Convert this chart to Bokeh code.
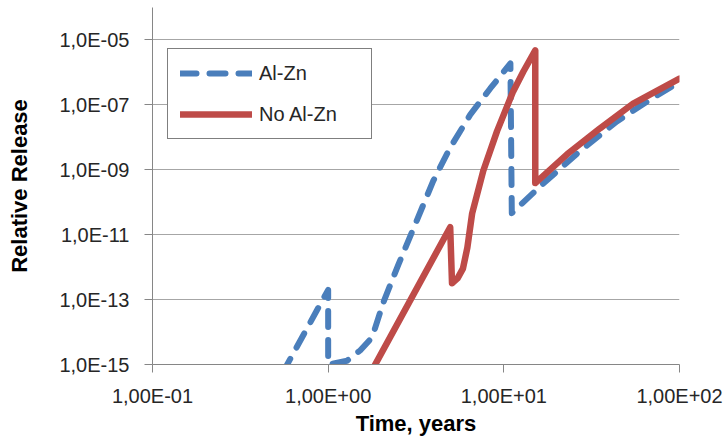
from bokeh.plotting import figure
from bokeh.models import FixedTicker, Legend, LegendItem
from bokeh.embed import file_html
from bokeh.resources import INLINE

# ---- data ----
alzn_time = [0.55, 1.0, 1.0, 1.28, 1.52, 1.78, 2.06, 2.51, 3.05, 3.97, 4.95,
             6.44, 8.37, 10.9, 11.1, 16.7, 27.2, 44.0, 68.1, 100.0]
alzn_release = [5.5e-16, 2.0e-13, 1.0e-15, 1.3e-15, 2.7e-15, 6.9e-15, 8.1e-14,
                1.2e-12, 1.5e-11, 4.6e-10, 4.8e-9, 5.0e-8, 3.2e-7, 1.9e-6,
                4.6e-11, 3.7e-10, 3.8e-9, 3.1e-8, 1.45e-7, 5.1e-7]

noalzn_time = [1.8, 4.95, 5.07, 5.45, 5.85, 6.2, 6.6, 7.64, 9.15, 11.3, 12.9,
               15.1, 15.1, 22.9, 35.3, 54.5, 100.0]
noalzn_release = [7.5e-16, 1.7e-11, 3.2e-13, 4.5e-13, 9.0e-13, 4.0e-12, 4.5e-11,
                  9.3e-10, 1.55e-8, 2.6e-7, 1.05e-6, 4.8e-6, 3.9e-10, 3.0e-9,
                  1.9e-8, 1.1e-7, 6.4e-7]

x_ticks = [0.1, 1.0, 10.0, 100.0]
x_tick_labels = ["1,00E-01", "1,00E+00", "1,00E+01", "1,00E+02"]
y_ticks = [1e-15, 1e-13, 1e-11, 1e-9, 1e-7, 1e-5]
y_tick_labels = ["1,0E-15", "1,0E-13", "1,0E-11", "1,0E-09", "1,0E-07", "1,0E-05"]

series_names = ["Al-Zn", "No Al-Zn"]

FONT = "Liberation Sans"
AXIS_GRAY = "#868686"

p = figure(width=724, height=438, x_axis_type="log", y_axis_type="log",
           x_range=(0.1, 100), y_range=(1e-15, 1e-4),
           output_backend="svg", toolbar_location=None,
           min_border_left=152, min_border_right=45,
           min_border_top=7, min_border_bottom=72)
p.background_fill_color = "white"
p.border_fill_color = "white"
p.outline_line_color = None

r1 = p.line(alzn_time, alzn_release, line_color="#4a7ebb", line_width=6,
            line_dash="16 13", line_cap="round", line_join="round")
r2 = p.line(noalzn_time, noalzn_release, line_color="#be4b48", line_width=6.5,
            line_cap="round", line_join="round")

# axes
p.xaxis.ticker = FixedTicker(ticks=x_ticks)
p.xaxis.major_label_overrides = {t: l for t, l in zip(x_ticks, x_tick_labels)}
p.yaxis.ticker = FixedTicker(ticks=y_ticks)
p.yaxis.major_label_overrides = {t: l for t, l in zip(y_ticks, y_tick_labels)}

for ax in (p.xaxis[0], p.yaxis[0]):
    ax.axis_line_color = AXIS_GRAY
    ax.major_tick_line_color = AXIS_GRAY
    ax.major_tick_out = 8
    ax.major_tick_in = 0
    ax.minor_tick_line_color = None
    ax.major_label_text_font = FONT
    ax.major_label_text_font_size = "20px"
    ax.major_label_text_color = "#262626"
    ax.axis_label_text_font = FONT
    ax.axis_label_text_font_style = "bold"
    ax.axis_label_text_font_size = "22px"
    ax.axis_label_text_color = "#000000"

p.xaxis.axis_label = "Time, years"
p.yaxis.axis_label = "Relative Release"
p.xaxis.major_label_standoff = 12
p.xaxis.axis_label_standoff = 1
p.yaxis.major_label_standoff = 15
p.yaxis.axis_label_standoff = 24

p.xgrid.grid_line_color = None
p.ygrid.grid_line_color = "#a6a6a6"
p.ygrid.grid_line_width = 1

legend = Legend(items=[LegendItem(label=series_names[0], renderers=[r1]),
                       LegendItem(label=series_names[1], renderers=[r2])],
                location=(15, 225), orientation="vertical")
legend.border_line_color = "black"
legend.border_line_width = 1
legend.background_fill_color = "white"
legend.background_fill_alpha = 1
legend.label_text_font = FONT
legend.label_text_font_size = "20px"
legend.label_text_color = "#262626"
legend.glyph_width = 72
legend.glyph_height = 24
legend.label_height = 24
legend.label_width = 100
legend.label_standoff = 7
legend.padding = 12
legend.spacing = 17
legend.margin = 0
p.add_layout(legend, "center")

open("out.html", "w").write(file_html(p, INLINE))
